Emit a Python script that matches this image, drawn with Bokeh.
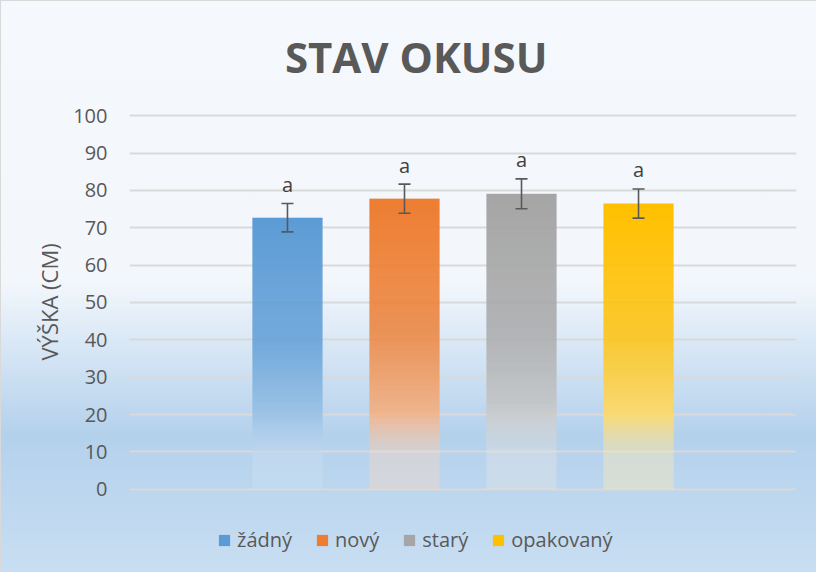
import numpy as np
from bokeh.plotting import figure
from bokeh.models import (Range1d, FixedTicker, Whisker, TeeHead, ColumnDataSource,
                          Legend, LegendItem, Title, Label)
from bokeh.core.properties import value
from bokeh.embed import file_html
from bokeh.resources import INLINE

# ---- data ----
series = ["žádný", "nový", "starý", "opakovaný"]
means = [72.7, 77.8, 79.1, 76.5]
errors = [3.8, 3.9, 4.0, 3.9]
letters = ["a", "a", "a", "a"]
colors = ["#5B9BD5", "#ED7D31", "#A5A5A5", "#FFC000"]
y_ticks = [0, 10, 20, 30, 40, 50, 60, 70, 80, 90, 100]

FONT = "Open Sans"
TXT = "#595959"
BAR_W = 0.6

xs = list(range(len(series)))

# frame spans the whole height (title and legend live inside the frame)
p = figure(width=816, height=572, output_backend="svg", toolbar_location=None,
           x_range=Range1d(-1.35, 4.35), y_range=Range1d(-20.68, 130.85),
           x_axis_location=None,
           min_border_left=129, min_border_right=20, min_border_top=0,
           min_border_bottom=6, tools="")
p.border_fill_alpha = 0
p.background_fill_alpha = 0
p.outline_line_alpha = 0
p.styles = {
    "background-image": "linear-gradient(to bottom, #F5F9FD 0%, #F3F7FC 49%, #B4D1EC 76%, #C8DEF2 100%)",
    "box-shadow": "inset 1px 1px 0 #D9D9D9",
}

title = Label(x=1.1, y=115.8, x_units="data", y_units="data",
              text="STAV OKUSU", text_align="center", text_baseline="alphabetic",
              text_font=FONT, text_font_size="42px", text_font_style="bold",
              text_color=TXT)
p.add_layout(title)

p.xgrid.visible = False
p.ygrid.grid_line_color = "#D9D9D9"
p.ygrid.grid_line_width = 2
p.yaxis.ticker = FixedTicker(ticks=y_ticks)
p.yaxis.axis_line_color = None
p.yaxis.major_tick_line_color = None
p.yaxis.minor_tick_line_color = None
p.yaxis.major_tick_out = 0
p.yaxis.major_label_standoff = 22
p.yaxis.major_label_text_font = FONT
p.yaxis.major_label_text_font_size = "20px"
p.yaxis.major_label_text_color = TXT

ylabel = Title(text="VÝŠKA (CM)", align="left", offset=206, standoff=14,
               text_font=FONT, text_font_size="22px", text_font_style="normal",
               text_color=TXT)
p.add_layout(ylabel, "left")


def hex_rgb(h):
    h = h.lstrip("#")
    return np.array([int(h[i:i + 2], 16) for i in (0, 2, 4)], dtype=float)


# gradient stops: (fraction from top, mix with white, alpha)
stops = [(0.0, 0.0, 1.0), (0.45, 0.0, 0.82), (0.74, 0.4, 0.9),
         (0.862, 0.6, 0.45), (0.872, 0.7, 0.4), (1.0, 0.7, 0.4)]
sf = np.array([s[0] for s in stops])
sm = np.array([s[1] for s in stops])
sa = np.array([s[2] for s in stops])


def gradient_image(color, rows=240, cols=4):
    base = hex_rgb(color)
    img = np.zeros((rows, cols), dtype=np.uint32)
    view = img.view(dtype=np.uint8).reshape((rows, cols, 4))
    for r in range(rows):
        f = 1.0 - r / (rows - 1)  # row 0 is the bottom
        m = np.interp(f, sf, sm)
        a = np.interp(f, sf, sa)
        rgb = base + (255 - base) * m
        view[r, :, 0:3] = np.round(rgb).astype(np.uint8)
        view[r, :, 3] = int(round(a * 255))
    return img


images = [gradient_image(c) for c in colors]
p.image_rgba(image=images, x=[x - BAR_W / 2 for x in xs], y=[0] * len(xs),
             dw=[BAR_W] * len(xs), dh=means)

src = ColumnDataSource(dict(x=xs, upper=[m + e for m, e in zip(means, errors)],
                            lower=[m - e for m, e in zip(means, errors)],
                            letter=letters))
wh = Whisker(source=src, base="x", upper="upper", lower="lower",
             line_color="#595959", line_width=1.6, level="annotation",
             upper_head=TeeHead(size=12, line_color="#595959", line_width=1.6),
             lower_head=TeeHead(size=12, line_color="#595959", line_width=1.6))
p.add_layout(wh)

p.text(x="x", y="upper", text="letter", source=src, y_offset=-19,
       text_align="center", text_baseline="alphabetic",
       text_font=value(FONT), text_font_size="20px", text_color="#404040")

# legend proxies: hidden solid bars (the visible bars are the gradient images)
items = []
for i, (name, c) in enumerate(zip(series, colors)):
    r = p.vbar(x=[xs[i]], top=[means[i]], width=BAR_W, fill_color=c,
               line_color=None)
    r.visible = False
    items.append(LegendItem(label=name, renderers=[r]))

legend = Legend(items=items, orientation="horizontal", location=(88, 13),
                padding=0, margin=0, spacing=23, label_standoff=6,
                glyph_width=14, glyph_height=14,
                label_text_font=FONT, label_text_font_size="20px",
                label_text_color=TXT, border_line_alpha=0,
                background_fill_alpha=0, inactive_fill_alpha=0,
                click_policy="none")
p.add_layout(legend, "center")

open("out.html", "w").write(file_html(p, INLINE))
